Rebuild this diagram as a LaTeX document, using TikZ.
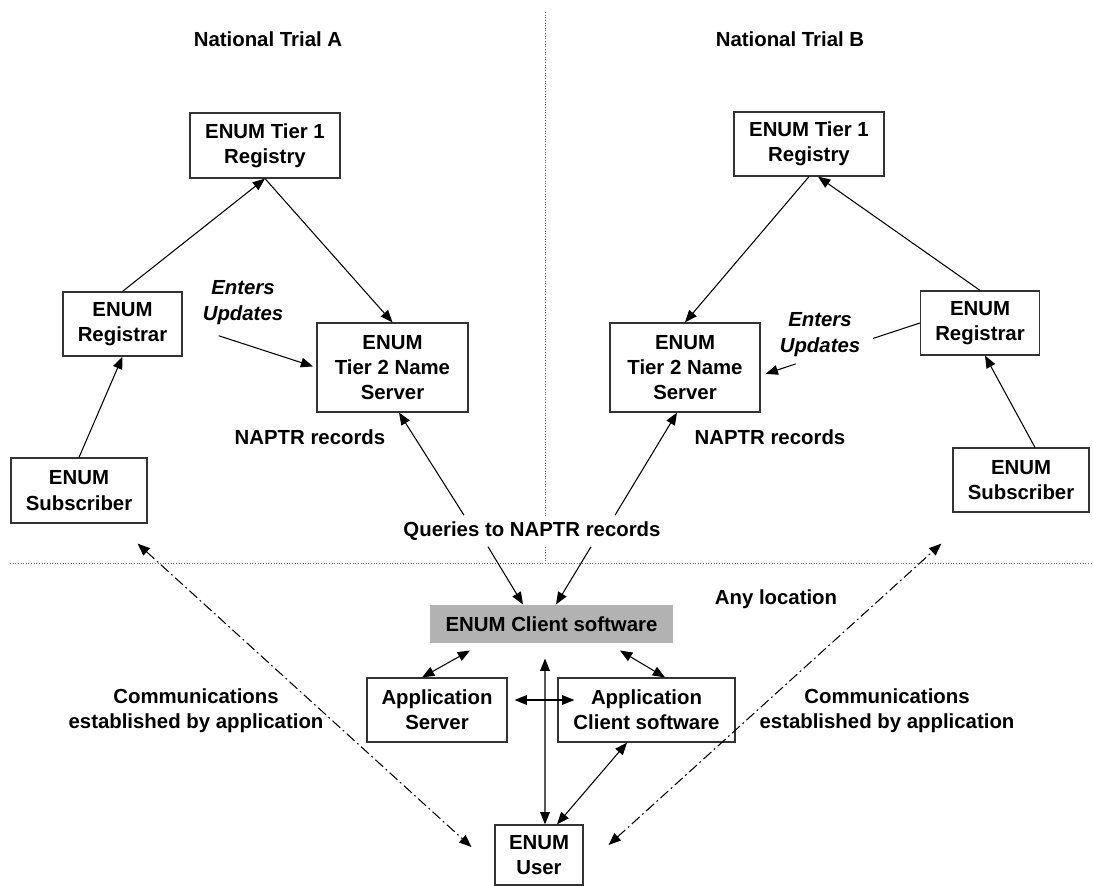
\documentclass[tikz,border=0pt]{standalone}
\usepackage{fontspec}
\setmainfont{Liberation Sans}
\usepackage{tikz}
\usetikzlibrary{arrows.meta}

\begin{document}
\begin{tikzpicture}[x=0.02cm, y=-0.02cm, >={Triangle[length=7pt,width=5.5pt]}, semithick,
		font=\bfseries\fontsize{11.6}{14.4}\selectfont,
		box/.style={draw=black!80, line width=0.7pt, align=center, inner sep=0pt},
		lbl/.style={align=center},
		upd/.style={align=center, font=\bfseries\itshape\fontsize{11.6}{14.4}\selectfont},
		divider/.style={densely dotted, draw=black!60, line width=0.5pt},
		comm/.style={<->, dash pattern=on 6pt off 2pt on 1pt off 2pt}]
	  		\useasboundingbox (0,0) rectangle (1093,886);
	  		\draw[divider] (545,12) -- (545,563);
	  		\draw[divider] (10,563) -- (1092,563);

	  		\node[lbl]         (TA)   at (268,39)		{National Trial A};
	  		\node[lbl]         (TB)   at (790,39)		{National Trial B};

	  		\node[box, minimum width=3cm, minimum height=1.3cm]         (T1A)  at (265,145.5)	{ENUM Tier 1\\Registry};
	  		\node[box, minimum width=2.38cm, minimum height=1.28cm]     (REGA) at (122.5,324)	{ENUM\\Registrar};
	  		\node[box, minimum width=3.02cm, minimum height=1.78cm]     (T2A)  at (392.5,367.5)	{ENUM\\Tier 2 Name\\Server};
	  		\node[box, minimum width=2.72cm, minimum height=1.3cm]      (SUBA) at (79,490.5)	{ENUM\\Subscriber};
	  		\node[upd]         (ENA)  at (243,302.5)	{Enters\\Updates};
	  		\node[lbl]         (NRA)  at (310,437)		{NAPTR records};

	  		\node[box, minimum width=3cm, minimum height=1.28cm]        (T1B)  at (809,144)		{ENUM Tier 1\\Registry};
	  		\node[box, minimum width=2.38cm, minimum height=1.28cm]     (REGB) at (980,323)		{ENUM\\Registrar};
	  		\node[box, minimum width=3cm, minimum height=1.78cm]        (T2B)  at (685,367.5)	{ENUM\\Tier 2 Name\\Server};
	  		\node[box, minimum width=2.72cm, minimum height=1.28cm]     (SUBB) at (1021,480)	{ENUM\\Subscriber};
	  		\node[upd]         (ENB)  at (820,334.5)	{Enters\\Updates};
	  		\node[lbl]         (NRB)  at (770,437)		{NAPTR records};

	  		\node[lbl, fill=white]  (QRY)  at (532,531)	{Queries to NAPTR records};
	  		\node[lbl]         (ANY)  at (776,599)		{Any location};
	  		\node[fill=black!30, minimum width=4.86cm, minimum height=0.76cm, inner sep=0pt]  (CLI) at (551.5,624)	{ENUM Client software};
	  		\node[box, minimum width=2.8cm, minimum height=1.28cm]      (APS)  at (437,710)		{Application\\Server};
	  		\node[box, minimum width=3.54cm, minimum height=1.28cm]     (APC)  at (646.5,710)	{Application\\Client software};
	  		\node[box, minimum width=1.76cm, minimum height=1.2cm]      (USR)  at (539,855)		{ENUM\\User};
	  		\node[lbl]         (COMA) at (196,711)		{Communications\\established by application};
	  		\node[lbl]         (COMB) at (887,711)		{Communications\\established by application};

	  		\draw[->] (REGA.north) -- (T1A.south);
	  		\draw[->] (T1A.south) -- (T2A.north);
	  		\draw[->] (SUBA.north) -- (REGA.south);
	  		\path (REGA.east) -- coordinate[pos=0.27] (CUTA) (T2A.west);
	  		\draw[->, shorten >=2pt] (CUTA) -- (T2A.west);

	  		\draw[->] (T1B.south) -- (T2B.north);
	  		\draw[->] (REGB.north) -- ([xshift=0.18cm]T1B.south);
	  		\draw[->] ([xshift=0.28cm]SUBB.north) -- ([xshift=0.1cm]REGB.south);
	  		\path (REGB.west) -- coordinate[pos=0.294] (CUTB1) coordinate[pos=0.78] (CUTB2) ([yshift=-0.16cm]T2B.east);
	  		\draw (REGB.west) -- (CUTB1);
	  		\draw[->, shorten >=3pt] (CUTB2) -- ([yshift=-0.16cm]T2B.east);

	  		\draw[->] ([xshift=-1.36cm]QRY.north) -- ([xshift=0.13cm]T2A.south);
	  		\draw[->] ([xshift=1.66cm]QRY.north) -- ([xshift=-0.16cm]T2B.south);
	  		\draw[->] ([xshift=-0.88cm]QRY.south) -- ([xshift=-0.57cm]CLI.north);
	  		\draw[->] ([xshift=1.18cm]QRY.south) -- ([xshift=0.09cm]CLI.north);

	  		\draw[<->] ([xshift=-1.63cm,yshift=-0.14cm]CLI.south) -- ([xshift=-0.3cm]APS.north);
	  		\draw[<->] ([xshift=1.37cm,yshift=-0.14cm]CLI.south) -- ([xshift=0.37cm]APC.north);
	  		\draw[<->] ([xshift=-0.13cm,yshift=-0.3cm]CLI.south) -- ([xshift=0.12cm]USR.north);
	  		\draw[<->] ([xshift=0.14cm,yshift=0.2cm]APS.east) -- ([xshift=0.34cm,yshift=0.2cm]APC.west);
	  		\draw[<->] ([xshift=-0.39cm]APC.south) -- ([xshift=0.36cm]USR.north);

	  		\draw[comm] ([xshift=-0.2cm,yshift=-0.4cm]SUBA.south east) -- ([xshift=-0.46cm,yshift=0.16cm]USR.west);
	  		\draw[comm] ([xshift=0.5cm,yshift=0.2cm]USR.east) -- ([xshift=-0.22cm,yshift=-0.62cm]SUBB.south west);
\end{tikzpicture}
\end{document}
